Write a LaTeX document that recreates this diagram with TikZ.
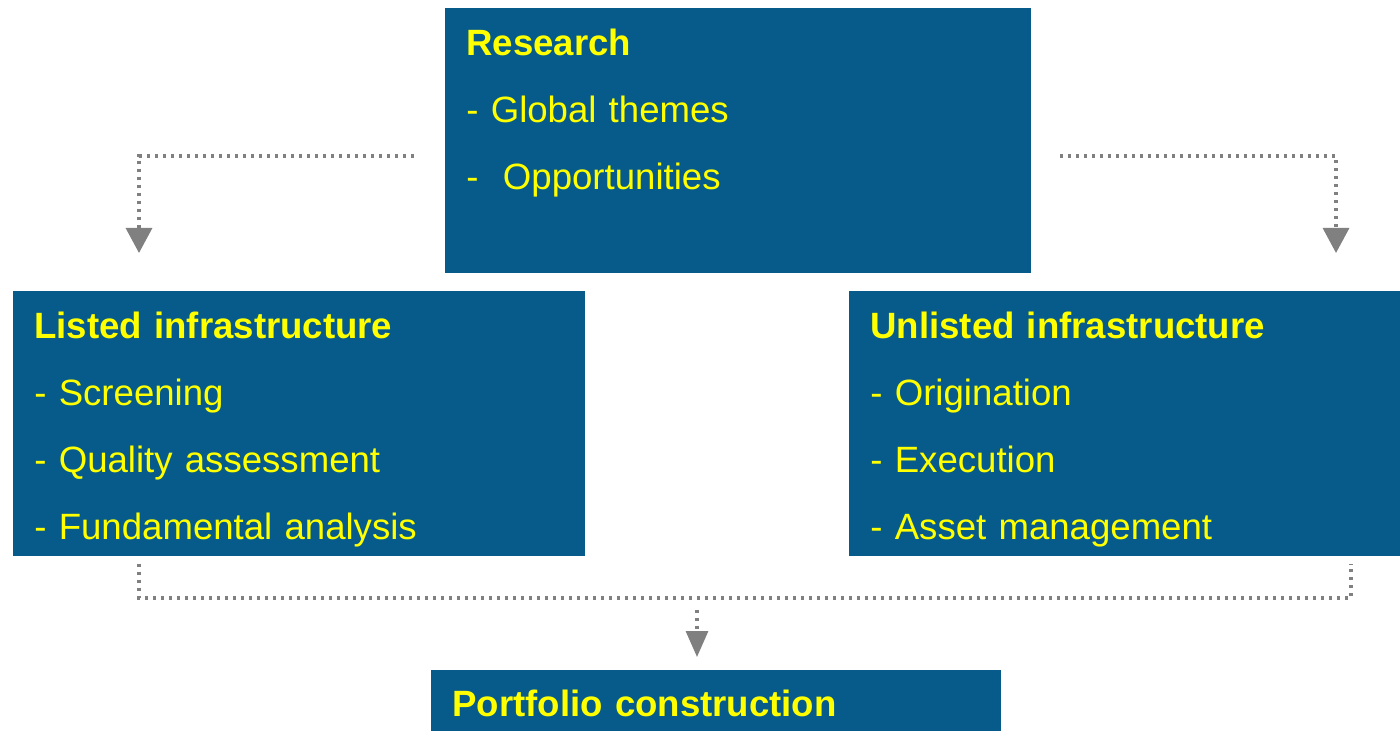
\documentclass[tikz,border=0pt]{standalone}
\usepackage{fontspec}
\setmainfont{Liberation Sans}
\usetikzlibrary{arrows.meta,calc}
\definecolor{boxblue}{HTML}{065B8B}
\definecolor{boxtext}{HTML}{FFFF00}
\definecolor{linkgray}{HTML}{808080}
\begin{document}
\begin{tikzpicture}[x=0.5pt,y=-0.5pt]
\tikzset{blk/.style={fill=boxblue,text=boxtext,anchor=north west,
                     inner xsep=10.5pt,inner ysep=0pt,
                     align=left,text height=23.5pt,text depth=109pt,
                     font=\fontsize{18.3pt}{33.5pt}\selectfont},
         link/.style={draw=linkgray,line width=1.6pt,
                      dash pattern=on 1.6pt off 2.4pt},
         tip/.style={-{Triangle[width=13pt,length=12.5pt]}}
}
\useasboundingbox (0,0) rectangle (1400,731);
\node[blk,text width=272pt] (R) at (445,8)
  {\textbf{Research}\\- Global themes\\-~ Opportunities};
\node[blk,text width=265pt] (L) at (13,291)
  {\textbf{Listed infrastructure}\\- Screening\\- Quality assessment\\- Fundamental analysis};
\node[blk,text width=265pt] (U) at (849,291)
  {\textbf{Unlisted infrastructure}\\- Origination\\- Execution\\- Asset management};
\node[blk,text width=264pt,text height=23pt,text depth=15pt] (P) at (431,670)
  {\textbf{Portfolio construction}};
% top links
\coordinate (rl) at ([xshift=-15.5pt,yshift=-74pt]R.north west);
\coordinate (lt) at ([xshift=63pt,yshift=19pt]L.north west);
\coordinate (rr) at ([xshift=14pt,yshift=-74pt]R.north east);
\coordinate (ut) at ([xshift=243.5pt,yshift=19pt]U.north west);
\draw[link,tip] (rl) -| (lt);
\draw[link,tip] (rr) -| (ut);
% bottom links
\coordinate (lb) at ([xshift=63pt,yshift=-3.5pt]L.south west);
\coordinate (ub) at ([xshift=251pt,yshift=-3.5pt]U.south west);
\coordinate (jn) at ([xshift=133pt,yshift=36pt]P.north west);
\coordinate (pt) at ([xshift=133pt,yshift=6.5pt]P.north west);
\draw[link] (lb) |- (jn) -| (ub);
\draw[link,-{Triangle[width=11pt,length=13pt]}] ([yshift=-6pt]jn) -- (pt);
\end{tikzpicture}
\end{document}
